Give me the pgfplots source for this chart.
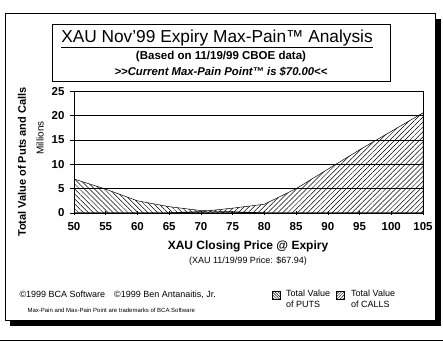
\documentclass[border=0pt]{standalone}
\usepackage{pgfplots}
\pgfplotsset{compat=1.18}
\usepackage{fontspec}
\setmainfont{Liberation Sans}
\usetikzlibrary{patterns.meta}
\tikzset{
  putpat/.style={pattern={Lines[angle=-45,distance=3.5pt,line width=0.5pt]}},
  callpat/.style={pattern={Lines[angle=45,distance=3.5pt,line width=0.5pt]}},
  putleg/.style={pattern={Lines[angle=-45,distance=2pt,line width=0.45pt]}},
  callleg/.style={pattern={Lines[angle=45,distance=2pt,line width=0.45pt]}},
}
\begin{document}
\begin{tikzpicture}[x=1pt,y=1pt]
\useasboundingbox (0,0) rectangle (443,342);
% shadow
\fill[black] (10,16) rectangle (441,22);
\fill[black] (435,16) rectangle (441,323);
% frame
\draw[line width=1pt] (5,22) rectangle (435,328);
\draw[line width=1pt] (0,2) -- (443,2);
% title box
\draw[line width=0.8pt] (52,261) rectangle (390,318);
\node[font=\fontsize{17.3}{19}\selectfont] at (217,303) {\underline{XAU Nov'99 Expiry Max-Pain™ Analysis}};
\node[font=\fontsize{11.5}{13}\selectfont\bfseries] at (221,285) {(Based on 11/19/99 CBOE data)};
\node[font=\fontsize{11.3}{13}\selectfont\bfseries\itshape] at (221,270) {>{}>Current Max-Pain Point™ is \$70.00<{}<};
% axis
\begin{axis}[
  at={(74pt,129pt)}, anchor=south west,
  scale only axis, width=349pt, height=121.5pt,
  xmin=50, xmax=105, ymin=0, ymax=25,
  xtick={50,55,...,105}, ytick={0,5,...,25},
  ymajorgrids, grid style={black, line width=0.7pt},
  axis line style={line width=0.7pt},
  tick style={black, line width=0.6pt},
  major tick length=4pt,
  xtick align=center, ytick align=outside,
  tick pos=left,
  ticklabel style={font=\fontsize{11.5}{13}\selectfont\bfseries},
  xticklabel style={yshift=-4pt},
  yticklabel style={xshift=-2pt},
  /pgf/number format/assume math mode=true,
  axis on top,
]
\addplot[draw=black, line width=0.5pt, putpat] coordinates {
 (50,7.0) (55,4.9) (60,2.5) (65,1.3) (70,0.5) (75,0.25) (80,0.05) (85,0) (90,0) (95,0) (100,0) (105,0)
} \closedcycle;
\addplot[draw=black, line width=0.5pt, callpat] coordinates {
 (50,0) (55,0) (60,0) (65,0.05) (70,0.3) (75,1.0) (80,1.8) (85,5.0) (90,9.0) (95,13.0) (100,16.8) (105,20.6)
} \closedcycle;
\end{axis}
% axis titles
\node[rotate=90, font=\fontsize{11}{13}\selectfont\bfseries] at (22,180) {Total Value of Puts and Calls};
\node[rotate=90, font=\fontsize{10}{12}\selectfont] at (40,204) {Millions};
\node[font=\fontsize{12}{14}\selectfont\bfseries] at (248,96) {XAU Closing Price @ Expiry};
\node[font=\fontsize{9}{11}\selectfont] at (248,81) {(XAU 11/19/99 Price: \$67.94)};
% footer
\node[anchor=west, font=\fontsize{9}{11}\selectfont] at (16,47) {©1999 BCA Software\quad ©1999 Ben Antanaitis, Jr.};
\node[anchor=west, font=\fontsize{6}{7}\selectfont] at (24,32) {Max-Pain and Max-Pain Point are trademarks of BCA Software};
% legend
\draw[putleg] (272,43) rectangle (280,51);
\node[anchor=north west, align=left, font=\fontsize{9}{10.5}\selectfont, inner sep=0pt] at (286,52) {Total Value\\of PUTS};
\draw[callleg] (336,43) rectangle (344,51);
\node[anchor=north west, align=left, font=\fontsize{9}{10.5}\selectfont, inner sep=0pt] at (351,52) {Total Value\\of CALLS};
\end{tikzpicture}
\end{document}
